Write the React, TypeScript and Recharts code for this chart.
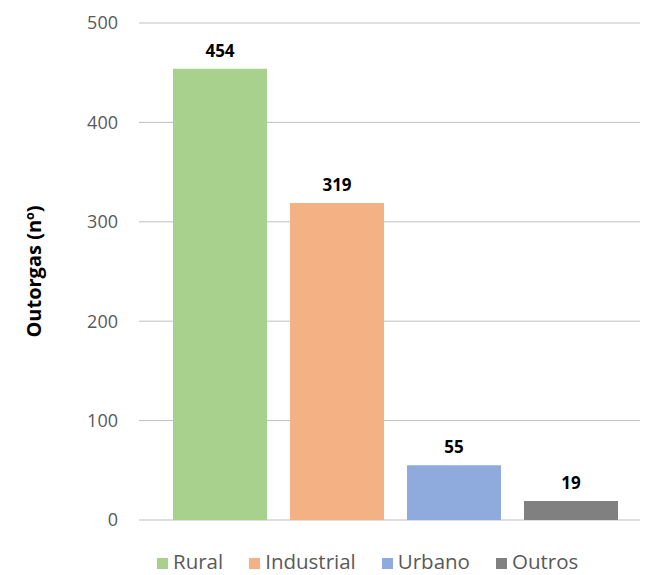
import { BarChart, Bar, XAxis, YAxis, CartesianGrid, LabelList } from 'recharts';

const seriesNames = ['Rural', 'Industrial', 'Urbano', 'Outros'];
const seriesValues = [454, 319, 55, 19];
const seriesColors = ['#A9D18E', '#F4B183', '#8FAADC', '#808080'];
const yTicks = [0, 100, 200, 300, 400, 500];

const FONT = '"Open Sans", "Liberation Sans", sans-serif';

// single category, one bar per series (as in the Excel original)
const row: Record<string, number | string> = { cat: 'Outorgas' };
seriesNames.forEach((n, i) => {
  row[n] = seriesValues[i];
});
const chartData = [row];

function LegendRow() {
  return (
    <div
      style={{
        position: 'absolute',
        top: 542,
        left: 149,
        display: 'flex',
        gap: 26,
        fontFamily: FONT,
        fontSize: 20.5,
        lineHeight: '22px',
        color: '#595959',
        whiteSpace: 'nowrap',
      }}
    >
      {seriesNames.map((n, i) => (
        <div key={n} style={{ display: 'flex', alignItems: 'center', gap: 5 }}>
          <span
            style={{
              width: 11,
              height: 11,
              marginTop: 4,
              background: seriesColors[i],
              display: 'inline-block',
            }}
          />
          <span>{n}</span>
        </div>
      ))}
    </div>
  );
}

export default function App() {
  return (
    <div style={{ position: 'relative', width: 640, height: 567, overflow: 'hidden', background: '#fff' }}>
      <BarChart
        width={644}
        height={567}
        data={chartData}
        margin={{ top: 15, right: 0, bottom: 55, left: 0 }}
        barCategoryGap={34}
        barGap={23}
      >
        <CartesianGrid vertical={false} stroke="#BFBFBF" />
        <XAxis dataKey="cat" hide />
        <YAxis
          width={131}
          domain={[0, 500]}
          ticks={yTicks}
          axisLine={false}
          tickLine={false}
          tickMargin={15}
          tick={{ fill: '#595959', fontSize: 18, fontFamily: FONT }}
          label={{
            value: 'Outorgas (nº)',
            angle: -90,
            position: 'center',
            dx: -40,
            fill: '#000',
            fontSize: 20,
            fontWeight: 700,
            fontFamily: FONT,
          }}
        />
        {seriesNames.map((n, i) => (
          <Bar key={n} dataKey={n} fill={seriesColors[i]} isAnimationActive={false}>
            <LabelList
              dataKey={n}
              position="top"
              offset={12}
              fill="#000"
              fontSize={17}
              fontWeight={700}
              fontFamily={FONT}
            />
          </Bar>
        ))}
      </BarChart>
      <LegendRow />
    </div>
  );
}
